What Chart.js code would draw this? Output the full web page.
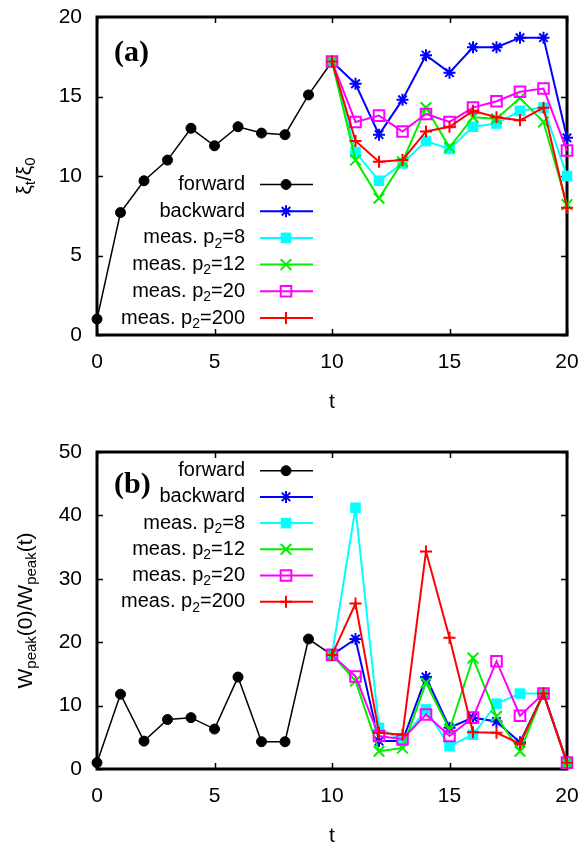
<!DOCTYPE html>
<html>
<head>
<meta charset="utf-8">
<script src="https://cdn.jsdelivr.net/npm/chart.js@4.4.0/dist/chart.umd.min.js"></script>
<style>
	body { margin: 0; background: #fff; }
	.panel { width: 588px; height: 422px; }
</style>
</head>
<body>
<div class="panel"><canvas id="xi" width="588" height="422"></canvas></div>
<div class="panel"><canvas id="wpeak" width="588" height="422"></canvas></div>
<script>
// time steps
const tFwd = [0, 1, 2, 3, 4, 5, 6, 7, 8, 9, 10];
const tMeas = [10, 11, 12, 13, 14, 15, 16, 17, 18, 19, 20];
const xTicks = [0, 5, 10, 15, 20];

// panel (a): xi_t / xi_0
const fwdA = [1.0, 7.7, 9.7, 11.0, 13.0, 11.9, 13.1, 12.7, 12.6, 15.1, 17.2];
const bwdA = [17.2, 15.8, 12.6, 14.8, 17.6, 16.5, 18.1, 18.1, 18.7, 18.7, 12.4];
const p8A = [17.2, 11.5, 9.7, 10.8, 12.2, 11.7, 13.1, 13.3, 14.1, 14.3, 10.0];
const p12A = [17.2, 11.0, 8.6, 10.9, 14.3, 11.8, 13.7, 13.6, 14.9, 13.4, 8.2];
const p20A = [17.2, 13.4, 13.8, 12.8, 13.9, 13.4, 14.3, 14.7, 15.3, 15.5, 11.6];
const p200A = [17.2, 12.2, 10.9, 11.0, 12.8, 13.1, 14.1, 13.7, 13.5, 14.3, 8.0];

// panel (b): W_peak(0) / W_peak(t)
const fwdB = [1.0, 11.8, 4.4, 7.8, 8.1, 6.3, 14.5, 4.3, 4.3, 20.5, 18.0];
const bwdB = [18.0, 20.5, 4.4, 4.4, 14.5, 6.5, 8.1, 7.5, 4.2, 11.9, 1.0];
const p8B = [18.0, 41.2, 6.5, 4.5, 9.4, 3.6, 5.4, 10.3, 11.9, 11.9, 1.0];
const p12B = [18.0, 13.9, 2.8, 3.3, 13.6, 6.2, 17.5, 8.3, 2.8, 11.9, 1.0];
const p20B = [18.0, 14.6, 5.2, 4.7, 8.6, 5.2, 8.1, 17.0, 8.4, 11.9, 1.0];
const p200B = [18.0, 26.1, 5.7, 5.4, 34.3, 20.7, 5.8, 5.7, 4.0, 11.9, 1.0];

// legend entries: [text, subscript] pieces
const names = [
	[['forward', 0]],
	[['backward', 0]],
	[['meas. p', 0], ['2', 1], ['=8', 0]],
	[['meas. p', 0], ['2', 1], ['=12', 0]],
	[['meas. p', 0], ['2', 1], ['=20', 0]],
	[['meas. p', 0], ['2', 1], ['=200', 0]]
];

const styles = [
	{ color: '#000000', fill: '#000000', point: 'circle', r: 5, bw: 1, lw: 1.5 },
	{ color: '#0000ff', fill: '#0000ff', point: 'star', r: 6, bw: 2, lw: 2 },
	{ color: '#00ffff', fill: '#00ffff', point: 'rect', r: 7.5, bw: 0, lw: 2 },
	{ color: '#00ee00', fill: '#00ee00', point: 'crossRot', r: 7.5, bw: 2, lw: 2 },
	{ color: '#ff00ff', fill: 'rgba(0,0,0,0)', point: 'rect', r: 7.5, bw: 2, lw: 2 },
	{ color: '#ff0000', fill: '#ff0000', point: 'cross', r: 6, bw: 2, lw: 2 }
];

const FONT = '"Liberation Sans", Arial, sans-serif';

function makeSets(vals) {
	return vals.map((v, i) => {
		const st = styles[i];
		const ts = i == 0 ? tFwd : tMeas;
		return {
			label: names[i].map(s => s[0]).join(''),
			data: ts.map((t, j) => ({ x: t, y: v[j] })),
			borderColor: st.color,
			backgroundColor: st.fill,
			pointStyle: st.point,
			pointRadius: st.r,
			pointHoverRadius: st.r,
			pointBorderColor: st.color,
			pointBackgroundColor: st.fill,
			pointBorderWidth: st.bw,
			borderWidth: st.lw,
			order: 6 - i,
			clip: false
		};
	});
}

// draws text pieces with subscripts, returns width
function richWidth(ctx, segs, size) {
	let w = 0;
	for (const s of segs) {
		ctx.font = (s[1] ? Math.round(size * 0.7) : size) + 'px ' + FONT;
		w += ctx.measureText(s[0]).width;
	}
	return w;
}
function drawRich(ctx, segs, x, y, size, align) {
	const w = richWidth(ctx, segs, size);
	let cx = align == 'right' ? x - w : (align == 'center' ? x - w / 2 : x);
	ctx.textAlign = 'left';
	ctx.textBaseline = 'middle';
	for (const s of segs) {
		ctx.font = (s[1] ? Math.round(size * 0.7) : size) + 'px ' + FONT;
		ctx.fillText(s[0], cx, s[1] ? y + 6 : y);
		cx += ctx.measureText(s[0]).width;
	}
}

const decor = {
	id: 'decor',
	beforeDatasetsDraw(chart, args, opts) {
		const ctx = chart.ctx;
		const a = chart.chartArea;
		const xs = chart.scales.x, ys = chart.scales.y;
		ctx.save();
		ctx.strokeStyle = '#000';
		ctx.lineWidth = 1.5;
		ctx.beginPath();
		for (const t of xTicks) {
			const px = Math.round(xs.getPixelForValue(t)) + 0.5;
			ctx.moveTo(px, a.bottom); ctx.lineTo(px, a.bottom - 6);
			ctx.moveTo(px, a.top); ctx.lineTo(px, a.top + 6);
		}
		for (const v of opts.yTicks) {
			const py = Math.round(ys.getPixelForValue(v)) + 0.5;
			ctx.moveTo(a.left, py); ctx.lineTo(a.left + 6, py);
			ctx.moveTo(a.right, py); ctx.lineTo(a.right - 6, py);
		}
		ctx.stroke();
		ctx.lineWidth = 3;
		ctx.strokeRect(a.left, a.top, a.right - a.left, a.bottom - a.top);
		ctx.restore();
	},
	afterDraw(chart, args, opts) {
		const ctx = chart.ctx;
		const a = chart.chartArea;
		ctx.save();
		ctx.fillStyle = '#000';
		// legend
		for (let i = 0; i < names.length; i++) {
			const y = opts.legendY + opts.legendStep * i;
			const st = styles[i];
			ctx.fillStyle = '#000';
			drawRich(ctx, names[i], 245, y, 20, 'right');
			ctx.strokeStyle = st.color;
			ctx.lineWidth = st.lw;
			ctx.beginPath();
			ctx.moveTo(260, y); ctx.lineTo(313, y);
			ctx.stroke();
			ctx.fillStyle = st.fill;
			ctx.lineWidth = st.bw;
			Chart.helpers.drawPoint(ctx, { pointStyle: st.point, radius: st.r, rotation: 0, borderWidth: st.bw }, 286, y);
		}
		// panel label
		ctx.fillStyle = '#000';
		ctx.font = 'bold 30px "Liberation Serif", "Times New Roman", serif';
		ctx.textAlign = 'left';
		ctx.textBaseline = 'middle';
		ctx.fillText(opts.tag, 114, opts.tagY);
		// x title
		ctx.font = '21px ' + FONT;
		ctx.textAlign = 'center';
		ctx.fillText('t', (a.left + a.right) / 2, a.bottom + 67);
		// y title
		ctx.translate(opts.yTitleX, (a.top + a.bottom) / 2);
		ctx.rotate(-Math.PI / 2);
		drawRich(ctx, opts.yTitle, 0, 0, 21, 'center');
		ctx.restore();
	}
};

function makeChart(id, vals, yMax, yStep, extra) {
	const yTicks = [];
	for (let v = 0; v <= yMax; v += yStep) yTicks.push(v);
	return new Chart(document.getElementById(id), {
		type: 'line',
		data: { datasets: makeSets(vals) },
		plugins: [decor],
		options: {
			responsive: false,
			animation: false,
			events: [],
			layout: { padding: { top: extra.top, right: 21, left: 0, bottom: 0 } },
			plugins: {
				legend: { display: false },
				tooltip: { enabled: false },
				decor: Object.assign({ yTicks: yTicks }, extra)
			},
			scales: {
				x: {
					type: 'linear', min: 0, max: 20,
					grid: { display: false, drawTicks: false },
					border: { display: false },
					ticks: { stepSize: 5, padding: 15, color: '#000', font: { family: FONT, size: 21 } },
					afterFit(s) { s.height = extra.xHeight; s.paddingLeft = 0; s.paddingRight = 0; }
				},
				y: {
					type: 'linear', min: 0, max: yMax,
					grid: { display: false, drawTicks: false },
					border: { display: false },
					ticks: { stepSize: yStep, padding: 15, color: '#000', font: { family: FONT, size: 21 } },
					afterFit(s) { s.width = 97; s.paddingTop = 0; s.paddingBottom = 0; }
				}
			}
		}
	});
}

makeChart('xi', [fwdA, bwdA, p8A, p12A, p20A, p200A], 20, 5, {
	top: 17, xHeight: 87, legendY: 184.5, legendStep: 26.7, tag: '(a)', tagY: 53, yTitleX: 25,
	yTitle: [['ξ', 0], ['t', 1], ['/', 0], ['ξ', 0], ['0', 1]]
});
makeChart('wpeak', [fwdB, bwdB, p8B, p12B, p20B, p200B], 50, 10, {
	top: 30, xHeight: 75, legendY: 48.7, legendStep: 26.2, tag: '(b)', tagY: 63, yTitleX: 26,
	yTitle: [['W', 0], ['peak', 1], ['(0)/W', 0], ['peak', 1], ['(t)', 0]]
});
</script>
</body>
</html>
